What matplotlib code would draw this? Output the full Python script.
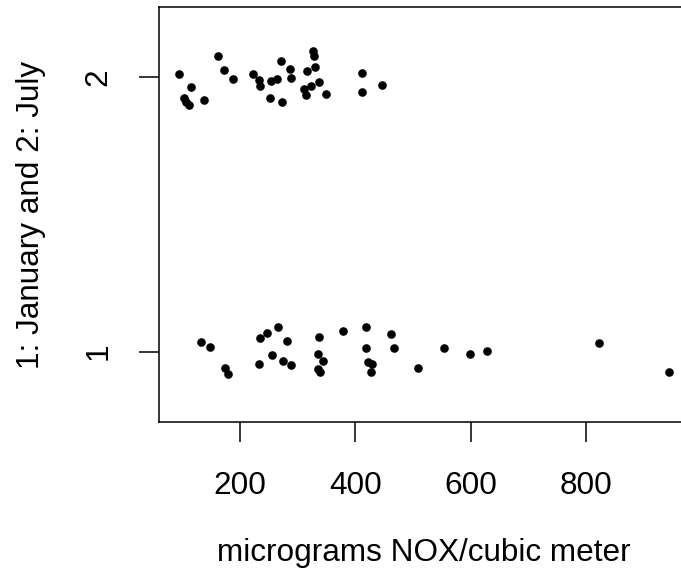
#!/usr/bin/env python3

''' Stripchart of NOX, January vs July (jittered) '''
import matplotlib
matplotlib.use('Agg')
from matplotlib import pyplot as plt

# July (group 2): NOX values and jittered position
jul_nox = [93.7, 115.6, 102.9, 106.9, 111.6, 137.1, 162.4, 171.7, 187.3, 222.0,
           232.4, 235.2, 252.0, 253.2, 264.7, 271.1, 272.8, 287.2, 289.0, 310.5,
           314.4, 316.2, 323.6, 327.1, 327.8, 330.6, 337.5, 348.6, 411.0, 411.0,
           445.7]
jul_pos = [2.012, 1.966, 1.926, 1.911, 1.899, 1.917, 2.077, 2.027, 1.995, 2.012,
           1.990, 1.969, 1.923, 1.985, 1.995, 2.059, 1.911, 2.031, 1.996, 1.956,
           1.935, 2.024, 1.968, 2.097, 2.078, 2.036, 1.982, 1.938, 2.017, 1.946,
           1.973]

# January (group 1)
jan_nox = [132.9, 147.5, 174.5, 179.7, 234.2, 247.3, 266.4, 282.0, 233.5, 256.0,
           274.6, 289.0, 337.0, 334.7, 344.4, 334.7, 339.2, 379.1, 419.0, 418.0,
           422.0, 428.4, 426.6, 461.3, 467.1, 509.0, 553.7, 598.8, 628.8, 823.0,
           944.4]
jan_pos = [1.036, 1.018, 0.942, 0.918, 1.049, 1.069, 1.091, 1.040, 0.956, 0.988,
           0.965, 0.952, 1.052, 0.992, 0.967, 0.938, 0.925, 1.077, 1.089, 1.012,
           0.964, 0.956, 0.927, 1.065, 1.013, 0.940, 1.012, 0.991, 1.004, 1.031,
           0.926]

xticks = [200, 400, 600, 800]
yticks = [1, 2]

plt.rcParams['font.family'] = ['Liberation Sans', 'DejaVu Sans']
fs = 22.7

W, H = 681, 578
fig = plt.figure(figsize=(W / 100, H / 100), dpi=100)
# plot box runs past the right edge (reference is cropped)
ax = fig.add_axes([159 / W, 1 - 422 / H, 530 / W, 415 / H])

ax.plot(jul_nox, jul_pos, 'o', color='black', markersize=6.2, markeredgewidth=0)
ax.plot(jan_nox, jan_pos, 'o', color='black', markersize=6.2, markeredgewidth=0)

ax.set_xlim(59.6, 978.5)
ax.set_ylim(0.744, 2.256)
ax.set_xticks(xticks)
ax.set_yticks(yticks)
ax.set_xticklabels([str(v) for v in xticks])
ax.set_yticklabels([str(v) for v in yticks], rotation=90, va='center')

for s in ax.spines.values():
    s.set_linewidth(1.1)
ax.tick_params(axis='both', length=14.4, width=1.1, labelsize=fs, color='black')
ax.tick_params(axis='x', pad=21.2)
ax.tick_params(axis='y', pad=18.5)

fig.text(31.4 / W, 1 - 214.5 / H, '1: January and 2: July', rotation=90,
         ha='center', va='center', fontsize=fs)
fig.text(424 / W, 1 - 553.5 / H, 'micrograms NOX/cubic meter',
         ha='center', va='center', fontsize=fs)

fig.savefig('out.png', dpi=100)
